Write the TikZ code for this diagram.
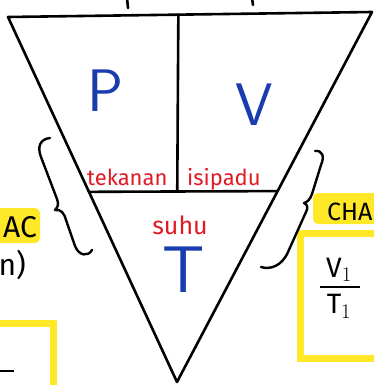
\documentclass[tikz,border=0pt]{standalone}
\usepackage{fontspec}
\setmainfont{Fira Sans}
\usetikzlibrary{calc}
\definecolor{azul}{RGB}{25,60,175}
\definecolor{vermelho}{RGB}{225,25,35}
\definecolor{amarelo}{RGB}{255,232,40}

\begin{document}
\begin{tikzpicture}[
    x=1pt, y=-1pt,
    traco/.style={line width=2.6pt, line join=round, line cap=round},
    chave/.style={line width=2.4pt, line cap=round, line join=round},
    letra/.style={text=azul, inner sep=0pt, font=\sffamily\fontsize{60}{60}\selectfont},
    rotulo/.style={text=vermelho, inner sep=0pt, font=\fontsize{22}{22}\selectfont},
    nota/.style={inner sep=0pt, font=\fontsize{30}{30}\selectfont},
    fracao/.style={inner sep=0pt, font=\fontsize{28}{28}\selectfont},
    marca/.style={fill=amarelo, rounded corners=5pt},
    caixa/.style={draw=amarelo, line width=7pt}
]
    \useasboundingbox (0,0) rectangle (373,385);

    % Marcas amarelas e caixas
    \fill[marca] (-10,208) rectangle (40,243);
    \fill[marca] (313,193) rectangle (385,224);
    \draw[caixa] (-10,323) -- (53,323) -- (53,395);
    \draw[caixa] (390,233) -- (300,233) -- (300,358) -- (390,358);

    % Triângulo
    \coordinate (supE) at (8,17);
    \coordinate (supD) at (372,12);
    \coordinate (vertice) at (177,382);
    \coordinate (baseE) at ($(supE)!0.479!(vertice)$);
    \coordinate (baseD) at ($(supD)!0.484!(vertice)$);
    \coordinate (divS) at ($(supE)!0.468!(supD)$);
    \coordinate (divI) at ($(baseE)!0.468!(baseD)$);

    \draw[traco] (supE) -- (supD) -- (vertice) -- cycle;
    \draw[traco] (baseE) -- (baseD);
    \draw[traco] (divS) -- (divI);

    % Traços cortados no topo
    \draw[traco] (127,-2) -- (128,8);
    \draw[traco] (252,-2) -- (253,5);

    % Letras
    \node[letra] (p) at (105,91) {P};
    \node[letra] (v) at (254,105) {V};
    \node[letra, font=\sffamily\fontsize{66}{66}\selectfont] (t) at (184,270) {T};

    \node[rotulo, anchor=base west] (tekanan) at (87,185) {tekanan};
    \node[rotulo, anchor=base west] (isipadu) at (187,185) {isipadu};
    \node[rotulo, anchor=base, font=\fontsize{25}{25}\selectfont] (suhu) at (180,234) {suhu};

    % Chavetas
    \draw[chave] (50,138) .. controls (40,139) and (37,147) .. (41,157)
        -- (57,199) .. controls (59,204) and (58,207) .. (55,210)
        .. controls (61,209) and (64,213) .. (66,220)
        -- (75,246) .. controls (79,256) and (88,257) .. (92,250);
    \draw[chave] (315,151) .. controls (322,150) and (325,156) .. (321,165)
        -- (312,194) .. controls (310,200) and (307,202) .. (304,203)
        .. controls (308,205) and (308,208) .. (306,212)
        -- (288,252) .. controls (282,266) and (270,270) .. (261,267);

    % Textos laterais
    \node[nota, anchor=base east] (ac) at (37,237) {AC};
    \node[nota, anchor=base east] (n) at (26,275) {n)};
    \node[nota, anchor=base west, font=\fontsize{25}{25}\selectfont] (cha) at (327,220) {CHA};

    % Fração
    \node[fracao, anchor=south] (v1) at (339,282) {V$_1$};
    \node[fracao, anchor=north] (t1) at (339,294) {T$_1$};
    \draw[line width=2pt] ($(v1.south west)+(-6,5)$) -- ($(v1.south east)+(8,5)$);
    \draw[line width=2pt] (-5,371) -- (14,371);
\end{tikzpicture}
\end{document}
